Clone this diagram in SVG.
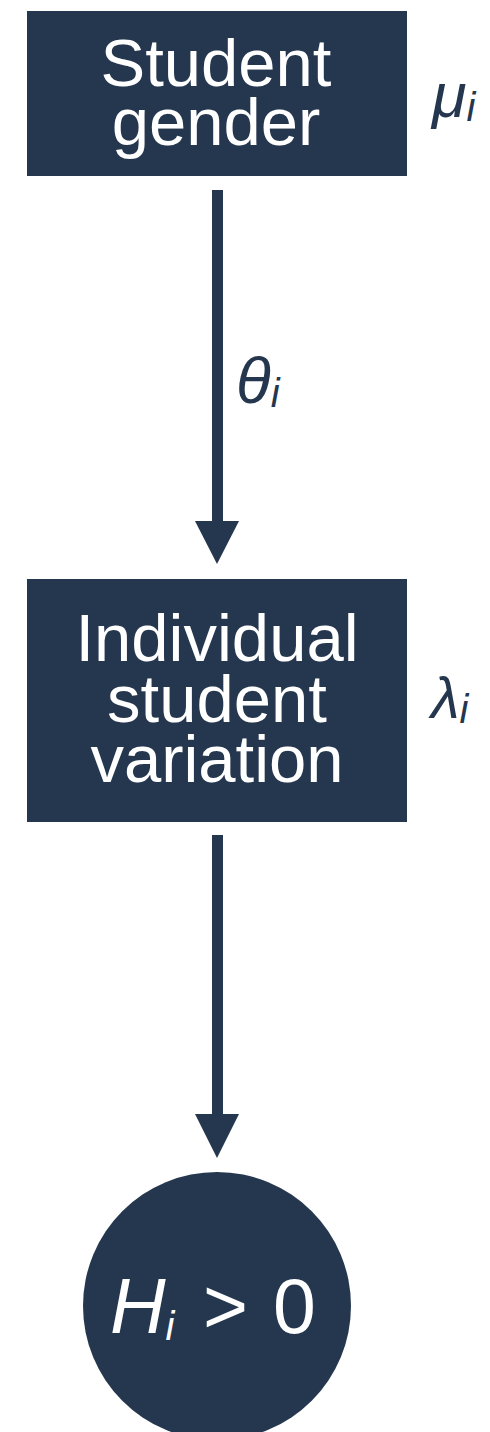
<svg xmlns="http://www.w3.org/2000/svg" width="490" height="1432" viewBox="0 0 490 1432">
<style>
.box{fill:#25374f}
.lbl{font-family:"Liberation Sans",Arial,sans-serif;font-size:67px;fill:#ffffff;text-anchor:middle}
.math{font-family:"Liberation Sans",Arial,sans-serif;font-style:italic;fill:#25374f}
.conn{fill:#25374f}
</style>
<rect width="490" height="1432" fill="#ffffff"/>
<g id="connectors">
<rect class="conn" x="212" y="190" width="11" height="332"/>
<polygon class="conn" points="195,521 239,521 217,564"/>
<rect class="conn" x="212" y="835" width="11" height="280"/>
<polygon class="conn" points="195,1114 239,1114 217,1158"/>
<text class="math" x="236" y="403" font-size="64">θ<tspan font-size="40" dy="4">i</tspan></text>
</g>
<g id="node-gender">
<rect class="box" x="27" y="11" width="380" height="165"/>
<text class="lbl"><tspan x="216" y="86">Student</tspan><tspan x="216" y="145">gender</tspan></text>
<text class="math" x="432" y="117" font-size="63">μ<tspan font-size="40" dy="4">i</tspan></text>
</g>
<g id="node-variation">
<rect class="box" x="27" y="579" width="380" height="243"/>
<text class="lbl"><tspan x="217" y="661">Individual</tspan><tspan x="217" y="722">student</tspan><tspan x="217" y="782">variation</tspan></text>
<text class="math" x="431" y="718" font-size="58">λ<tspan font-size="40" dy="5">i</tspan></text>
</g>
<g id="node-outcome">
<circle class="box" cx="217" cy="1306" r="134"/>
<text font-family="Liberation Sans, Arial, sans-serif" fill="#ffffff" font-size="77" y="1333"><tspan x="110" font-style="italic">H</tspan><tspan font-style="italic" font-size="40" dy="7">i</tspan><tspan x="203" dy="-7">&gt;</tspan><tspan x="273">0</tspan></text>
</g>
</svg>
